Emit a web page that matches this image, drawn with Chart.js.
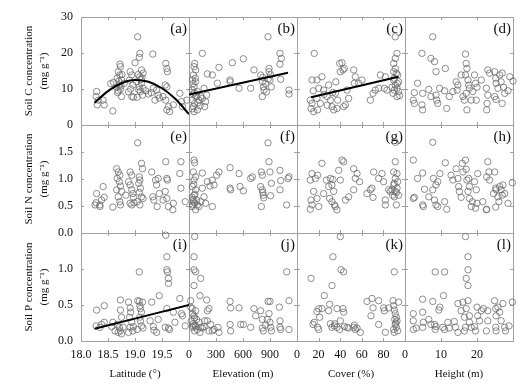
<!DOCTYPE html>
<html><head><meta charset="utf-8">
<script src="https://cdn.jsdelivr.net/npm/chart.js@4.4.0/dist/chart.umd.min.js"></script>
<style>html,body{margin:0;padding:0;background:#fff;}#wrap{width:528px;height:389px;position:relative;}</style>
</head><body><div id="wrap"><canvas id="c" width="528" height="389"></canvas></div>
<script>
// ---------- axis definitions ----------
const xTitles = ['Latitude (\u00B0)', 'Elevation (m)', 'Cover (%)', 'Height (m)'];
const xMins = [18, 0, 0, 0];
const xMaxs = [20, 1200, 100, 30];
const xSteps = [0.5, 300, 20, 10];
const yTitles = [['Soil C concentration', '(mg g\u207B\u00B9)'], ['Soil N concentration', '(mg g\u207B\u00B9)'], ['Soil P concentration', '(mg g\u207B\u00B9)']];
const yMins = [0, 0, 0];
const yMaxs = [30, 2, 1.5];
const ySteps = [10, 0.5, 0.5];
const panelLabels = ['(a)','(b)','(c)','(d)','(e)','(f)','(g)','(h)','(i)','(j)','(k)','(l)'];

// ---------- data: [x, y] ----------
const cLat = [[18.29,9.3],[18.28,7.9],[18.32,6.9],[18.30,5.6],[18.41,6.9],[18.43,5.6],[18.59,3.9],[18.60,11.8],
[18.72,16.9],[18.73,16.2],[18.69,14.8],[18.72,13.9],[18.67,13.0],[18.75,12.5],[18.71,11.1],[18.66,10.5],[18.73,9.9],[18.69,9.5],[18.75,7.9],[18.80,11.6],
[18.91,14.8],[18.94,13.9],[18.90,12.5],[18.96,11.1],[18.94,7.9],[18.97,7.7],
[19.05,24.5],[19.09,19.9],[19.08,18.8],[19.00,17.3],[19.12,15.3],[19.15,14.4],[19.09,13.4],[19.03,12.0],[19.12,11.6],[19.08,10.6],[19.15,10.2],[19.10,9.3],[19.14,8.3],[19.04,7.7],
[19.33,19.7],[19.34,10.2],[19.40,9.7],[19.43,8.3],[19.37,6.9],
[19.57,17.1],[19.59,15.7],[19.60,14.8],[19.56,11.1],[19.59,10.6],[19.52,7.9],[19.57,6.9],[19.62,5.1],[19.59,4.2],[19.64,3.7],
[19.71,5.6],[19.83,8.8],[19.86,6.5],[19.96,6.9],[19.88,5.1],
[18.70,12.2],[18.74,10.8],[18.68,9.0],[19.06,14.0],[19.11,12.6],[19.07,9.8],[19.13,13.1],[18.92,10.0],[18.88,9.2],[18.76,14.0],[19.45,7.5],[19.30,9.0],[18.55,11.5],[19.20,9.5],[19.25,8.6]];
const cElev = [[63,17.1],[56,16.2],[74,15.3],[48,13.9],[37,12.5],[74,12.0],[56,10.6],[37,9.7],[93,9.3],[48,8.6],[74,7.9],[37,6.9],[63,6.0],[48,5.1],[93,4.2],[56,3.7],[111,6.9],[130,7.9],[122,5.3],
[148,19.9],[167,10.2],[185,6.5],[174,5.1],[148,7.4],[196,8.3],[204,14.2],[259,13.9],[333,16.0],[315,11.6],
[456,12.0],[456,12.5],[481,17.3],[556,10.2],[604,18.4],
[685,10.2],[722,15.3],[796,13.9],[815,12.0],[826,10.6],[833,9.7],[815,7.9],[889,14.8],[907,13.9],[900,12.5],[915,10.6],[878,24.5],[1011,19.9],[1026,18.5],[1011,16.9],[1019,12.7],[1111,9.7],[1111,8.6],[889,15.7],
[45,11.5],[60,9.0],[85,8.0],[100,6.2],[40,4.5],[70,13.0],[850,11.5],[880,12.8],[860,9.2],[820,13.2]];
const cCover = [[16.0,19.9],[13.9,12.5],[18.5,12.5],[20.1,10.2],[12.3,6.9],[13.9,6.0],[13.0,4.6],[15.4,3.7],[18.5,7.4],[21.6,6.0],[19.1,4.2],
[23.1,13.4],[24.7,9.7],[27.8,7.9],[29.3,11.1],[30.9,6.9],[32.4,5.1],[34.0,4.2],[37.0,4.6],[35.5,8.8],[37.7,6.9],
[39.5,17.1],[41.7,17.3],[42.6,15.3],[43.8,15.7],[40.1,14.8],[44.8,5.6],[43.2,5.1],[46.3,9.7],[47.8,7.4],
[52.5,15.3],[54.0,13.4],[53.1,11.6],[57.1,11.6],[60.2,12.5],
[67.9,6.9],[70.4,8.8],[72.5,9.7],[75.6,10.2],[77.2,13.9],[81.8,13.4],
[91.0,24.5],[92.6,19.9],[91.0,18.5],[89.5,17.1],[91.0,15.7],[89.5,14.8],[92.0,14.4],[93.2,13.9],[89.5,12.5],[94.1,12.0],[91.0,11.1],[92.6,10.2],[90.1,9.7],[94.1,9.3],[88.9,8.8],[92.6,7.9],[80.9,10.2],[83.3,9.7],
[25,8.5],[15,9.5],[33,9.0],[28,5.5],[36,12.0],[90,13.0],[93,11.5],[88,10.5],[95,8.2]];
const cHeight = [[7.7,24.5],[4.7,19.9],[7.2,18.5],[8.2,17.6],[8.6,14.8],[11.2,15.7],
[3.5,11.6],[2.6,9.0],[2.3,6.9],[2.6,6.0],[4.9,8.8],[4.7,5.6],[4.9,4.2],[6.6,9.9],[7.2,7.9],[8.6,8.3],[8.8,6.9],[9.1,6.0],[9.6,10.2],[11.0,9.5],[11.6,4.6],[12.3,7.9],[13.3,9.3],
[14.2,12.0],[14.7,11.1],[14.5,9.7],[15.6,13.9],[16.1,7.9],[16.5,6.9],[16.8,19.7],[17.0,17.1],[17.2,15.7],[16.8,13.9],[17.5,12.5],[17.7,11.1],[17.9,10.2],[17.0,8.8],[17.2,4.2],[18.4,6.9],[18.8,9.3],[19.3,13.9],[19.6,11.6],[20.0,10.5],[19.8,6.9],
[21.2,12.5],[22.6,10.2],[23.0,15.3],[23.5,14.4],[23.0,8.3],[22.8,6.0],[22.7,4.2],
[24.9,14.8],[25.2,13.0],[25.3,11.6],[25.8,10.2],[26.3,13.9],[26.7,12.0],[27.0,14.4],[27.4,10.5],[27.7,8.8],[27.0,6.0],[24.9,7.9],[25.3,7.1],[28.6,9.5],[29.1,13.4],[30.0,12.2]];

const nLat = [[18.29,0.73],[18.28,0.56],[18.26,0.52],[18.35,0.52],[18.38,0.61],[18.41,0.86],[18.43,0.66],[18.35,0.49],[18.59,0.48],
[18.66,1.19],[18.69,1.13],[18.72,1.07],[18.67,1.01],[18.71,0.95],[18.73,0.87],[18.66,0.80],[18.75,0.77],[18.69,0.67],[18.72,0.58],[18.73,0.52],
[18.83,0.70],[18.88,0.95],[18.91,1.13],[18.94,1.07],[18.91,0.89],[18.94,0.80],[18.96,0.73],[18.97,0.66],[18.91,0.55],[18.98,0.56],[18.94,0.52],
[19.05,1.67],[19.08,1.04],[19.09,0.98],[19.12,1.29],[19.14,1.19],[19.07,0.92],[19.10,0.83],[19.08,0.75],[19.12,0.67],[19.15,0.64],[19.04,0.58],[19.09,0.52],
[19.31,1.13],[19.40,0.89],[19.43,1.01],[19.38,0.98],[19.33,0.67],[19.35,0.61],[19.41,0.49],[19.45,0.73],
[19.57,1.32],[19.59,1.01],[19.60,0.98],[19.56,0.77],[19.59,0.64],[19.52,0.61],[19.62,0.49],[19.71,0.55],[19.70,0.43],[19.85,1.32],[19.83,1.10],[19.85,0.83],[19.93,0.58]];
const nElev = [[56,1.35],[63,1.30],[48,1.13],[74,1.04],[56,0.98],[37,0.86],[74,0.80],[56,0.70],[37,0.66],[85,0.61],[48,0.58],[63,0.55],[37,0.49],[93,0.52],[74,0.43],[111,0.49],[130,0.58],[148,1.11],[167,0.67],[185,0.55],[259,0.49],[148,0.83],[204,0.95],[233,0.87],[259,0.98],[278,0.89],[307,1.07],[333,1.13],
[456,1.21],[463,0.80],[456,0.83],[556,1.10],[567,0.86],[604,0.78],
[685,1.01],[704,1.04],[804,1.13],[815,1.07],[796,0.86],[815,0.80],[826,0.70],[907,0.69],[915,0.92],[804,0.49],[900,1.13],[889,1.32],[878,1.67],[1011,1.16],[1011,0.80],[1019,0.97],[1111,1.04],[1100,1.01],[1085,0.52],
[45,0.62],[66,0.72],[52,0.90],[40,0.52],[820,0.75],[830,0.65]];
const nCover = [[23.1,1.29],[13.9,1.10],[12.3,0.98],[17.0,1.01],[19.1,1.07],[15.4,0.77],[13.0,0.61],[13.9,0.52],[12.3,0.44],[18.5,0.64],[20.1,0.49],
[24.7,0.73],[27.2,0.98],[29.3,0.86],[30.9,1.01],[32.4,0.89],[33.3,0.99],[34.0,0.77],[30.2,0.64],[32.4,0.58],[34.6,0.52],[37.0,0.43],[35.5,0.49],[40.1,0.98],[41.7,1.35],[43.2,1.32],[38.6,1.16],[44.8,0.61],[47.8,0.67],
[52.5,1.19],[54.0,1.01],[55.6,1.10],[52.5,0.80],[58.0,0.95],
[64.8,0.73],[67.9,0.80],[69.4,0.83],[70.4,0.66],[71.0,1.13],[75.6,1.01],[78.7,1.10],[80.2,0.95],[81.8,0.61],[81.8,0.52],
[91.0,1.68],[91.0,1.32],[89.5,1.13],[92.6,1.10],[91.0,1.01],[93.2,0.95],[89.5,0.89],[92.6,0.83],[88.0,0.80],[91.0,0.77],[94.1,0.70],[90.1,0.67],[86.4,0.77],[92.0,0.52],[84.9,0.80],
[90,0.92],[92,0.75],[88.5,0.70]];
const nHeight = [[7.7,1.68],[2.3,1.35],[3.5,1.01],[4.9,1.11],[5.4,0.81],[2.3,0.64],[2.6,0.66],[4.9,0.52],[5.1,0.49],[6.6,0.67],[7.7,0.80],[7.9,1.01],[8.6,0.89],[9.1,0.95],[9.7,1.10],[11.2,1.30],[8.2,0.61],[8.6,0.52],[9.1,0.49],[11.0,0.58],[11.6,0.44],
[12.8,1.07],[13.3,0.98],[14.2,1.19],[14.7,1.01],[14.9,0.86],[15.1,0.77],[15.6,0.66],[15.9,1.29],[16.1,1.13],[16.8,1.35],[17.0,1.18],[17.2,0.98],[17.7,1.01],[17.9,0.86],[17.5,0.77],[17.9,0.64],[18.4,0.49],[18.7,0.58],[19.3,0.95],[19.8,0.80],[20.0,0.55],[20.2,1.10],[19.6,0.46],[21.6,0.58],[22.7,0.44],[22.6,0.43],
[23.0,1.32],[23.3,1.13],[22.7,1.04],[23.5,0.98],[24.9,1.13],[25.2,0.83],[24.6,0.73],[25.3,0.80],[25.8,0.67],[26.3,0.86],[26.7,0.80],[27.2,0.89],[27.0,0.70],[27.7,0.73],[28.6,0.55],[29.8,0.93],[25.2,0.48],[26.1,0.58]];

const pLat = [[18.28,0.21],[18.29,0.43],[18.43,0.49],[18.35,0.19],[18.38,0.23],[18.43,0.26],[18.59,0.26],[18.57,0.20],
[18.73,0.57],[18.73,0.43],[18.75,0.33],[18.71,0.19],[18.73,0.14],[18.69,0.12],[18.75,0.10],[18.78,0.19],[18.67,0.23],[18.63,0.14],
[18.88,0.54],[18.91,0.46],[18.92,0.40],[18.90,0.33],[18.94,0.26],[18.91,0.19],[18.96,0.14],[18.88,0.12],[18.97,0.20],
[19.05,0.56],[19.08,0.55],[19.09,0.49],[19.10,0.45],[19.12,0.40],[19.08,0.96],[19.09,0.33],[19.10,0.28],[19.12,0.21],[19.04,0.16],[19.15,0.18],[19.14,0.54],
[19.31,0.54],[19.28,0.28],[19.34,0.20],[19.35,0.15],[19.40,0.12],[19.45,0.63],[19.43,0.30],
[19.57,1.47],[19.59,1.17],[19.59,0.99],[19.60,0.96],[19.62,0.87],[19.62,0.80],[19.59,0.45],[19.56,0.19],[19.62,0.18],[19.64,0.16],[19.71,0.40],[19.74,0.26],[19.83,0.59],[19.86,0.38],[19.88,0.35],[19.93,0.21]];
const pElev = [[63,1.45],[56,1.17],[56,0.99],[74,0.96],[130,0.87],[56,0.77],[122,0.63],[19,0.56],[37,0.45],[74,0.42],[56,0.35],[26,0.28],[48,0.21],[37,0.19],[74,0.20],[93,0.16],[63,0.14],[111,0.26],[130,0.19],[148,0.18],[167,0.20],[174,0.28],[85,0.30],[19,0.47],[122,0.12],
[196,0.57],[204,0.42],[222,0.45],[204,0.28],[241,0.23],[259,0.14],[278,0.16],[322,0.19],[333,0.12],[222,0.14],
[456,0.55],[463,0.46],[456,0.23],[463,0.14],[556,0.46],[574,0.23],[604,0.23],
[685,0.19],[722,0.45],[741,0.35],[796,0.42],[815,0.30],[815,0.18],[826,0.14],[878,0.55],[900,0.55],[889,0.38],[900,0.26],[907,0.19],[915,0.14],[1011,0.28],[1004,0.47],[1011,0.19],[1019,0.16],[1085,0.96],[1111,0.56],[1111,0.16],
[45,0.24],[60,0.32],[68,0.22],[40,0.38],[850,0.22],[870,0.30]];
const pCover = [[13.0,0.87],[18.5,0.41],[20.1,0.45],[14.8,0.23],[16.0,0.26],[19.1,0.19],[20.1,0.16],[21.0,0.33],[23.1,0.45],[25.3,0.63],[30.2,0.51],[32.4,0.77],[33.3,1.17],[40.1,1.45],[40.7,0.99],[43.2,0.96],[29.3,0.42],[30.9,0.24],[32.4,0.19],[34.6,0.21],[37.0,0.45],[37.0,0.19],[40.1,0.28],[42.6,0.45],[43.2,0.40],[39.5,0.16],[43.8,0.20],[46.3,0.19],[47.8,0.18],
[52.5,0.19],[54.0,0.16],[55.6,0.18],[58.6,0.12],[64.8,0.55],[69.4,0.59],[70.4,0.46],[68.5,0.35],[75.6,0.56],[75.6,0.23],[80.2,0.46],[80.9,0.42],[81.8,0.12],[84.9,0.46],
[88.9,0.56],[89.5,0.49],[90.1,0.43],[91.0,0.38],[90.1,0.96],[92.0,0.33],[92.6,0.28],[91.0,0.23],[92.0,0.19],[89.5,0.16],[94.1,0.54],[93.2,0.14],[90.1,0.12],
[91.5,0.25],[90.5,0.30],[53,0.22],[35,0.24]];
const pHeight = [[16.8,1.45],[17.5,1.17],[17.5,0.99],[8.4,0.96],[11.0,0.96],[17.0,0.87],[17.5,0.77],[10.7,0.63],[4.9,0.58],[7.7,0.55],[9.7,0.47],[9.4,0.43],[2.3,0.38],[4.9,0.40],[2.3,0.28],[3.1,0.18],[2.3,0.16],[4.9,0.19],[5.1,0.26],[6.6,0.30],[7.2,0.23],[8.2,0.23],[8.6,0.20],[8.4,0.16],[10.5,0.19],[11.0,0.16],[11.9,0.26],[12.3,0.18],[13.7,0.27],[14.0,0.19],[14.7,0.12],[14.7,0.52],[15.6,0.42],[16.1,0.54],[16.5,0.33],[17.0,0.45],[17.5,0.56],[17.9,0.35],[16.8,0.19],[16.5,0.14],[17.9,0.26],[18.4,0.19],[19.3,0.20],[19.6,0.14],[20.0,0.47],[20.2,0.35],[20.7,0.28],[21.2,0.42],[21.8,0.45],[22.6,0.14],[23.0,0.42],[23.0,0.28],[24.9,0.56],[25.2,0.45],[25.3,0.35],[25.2,0.19],[25.3,0.14],[25.8,0.47],[26.3,0.40],[26.7,0.28],[27.2,0.52],[27.7,0.19],[27.9,0.14],[28.9,0.21],[29.8,0.54]];

// fitted lines
const fitCLat = [[18.25,6.2],[18.5,9.4],[18.75,11.6],[19.0,12.5],[19.25,12.0],[19.5,10.2],[19.75,7.2],[20.0,3.0]];
const fitCElev = [[0,8.5],[1100,14.5]];
const fitCCover = [[13,7.7],[94,13.4]];
const fitPLat = [[18.25,0.17],[20.0,0.50]];

// ---------- build ----------
const xIds = ['x0','x1','x2','x3'];
const yIds = ['y0','y1','y2'];
const grid = [[cLat,cElev,cCover,cHeight],[nLat,nElev,nCover,nHeight],[pLat,pElev,pCover,pHeight]];
const fits = [{d:fitCLat,r:0,c:0},{d:fitCElev,r:0,c:1},{d:fitCCover,r:0,c:2},{d:fitPLat,r:2,c:0}];
const toPts = a => a.map(p => ({x:p[0], y:p[1]}));

const datasets = [];
grid.forEach((row, r) => row.forEach((d, c) => {
  datasets.push({type:'scatter', data:toPts(d), xAxisID:xIds[c], yAxisID:yIds[r],
    pointRadius:3.2, pointHoverRadius:3.2, borderWidth:0.9, borderColor:'rgba(105,105,105,0.85)', backgroundColor:'rgba(0,0,0,0)', clip:false, order:2});
}));
fits.forEach(f => datasets.push({type:'line', data:toPts(f.d), xAxisID:xIds[f.c], yAxisID:yIds[f.r],
  borderColor:'#000', borderWidth:2, pointRadius:0, tension:0.4, cubicInterpolationMode:'monotone', fill:false, order:1}));

const fmt = (v, step) => step < 1 ? v.toFixed(1) : String(v);
const scales = {};
xIds.forEach((id, i) => {
  scales[id] = {type:'linear', position:'bottom', stack:'xs', weight:i+1, min:xMins[i], max:xMaxs[i],
    grid:{display:false, drawTicks:false}, border:{display:false},
    ticks:{stepSize:xSteps[i], autoSkip:false, maxRotation:0, padding:7, color:'#111', font:{size:12},
      callback:(v) => v >= xMaxs[i] - 1e-9 ? '' : fmt(v, xSteps[i])},
    title:{display:true, text:xTitles[i], color:'#111', font:{size:11}, padding:{top:2, bottom:8}},
    afterFit(s){ s.height = 48; }};
});
yIds.forEach((id, i) => {
  scales[id] = {type:'linear', position:'left', stack:'ys', weight:3-i, min:yMins[i], max:yMaxs[i],
    grid:{display:false, drawTicks:false}, border:{display:false},
    ticks:{stepSize:ySteps[i], autoSkip:false, padding:8, color:'#111', font:{size:12},
      callback:(v) => (i > 0 && v >= yMaxs[i] - 1e-9) ? '' : fmt(v, ySteps[i])},
    title:{display:true, text:yTitles[i], color:'#111', font:{size:11, lineHeight:1.35}, padding:{top:22, bottom:0}},
    afterFit(s){ s.width = 81; }};
});

const framePlugin = {
  id:'frames',
  beforeDatasetsDraw(chart){
    const ctx = chart.ctx;
    const xs = xIds.map(id => chart.scales[id]);
    const ys = yIds.map(id => chart.scales[id]);
    ctx.save();
    ctx.strokeStyle = '#a0a0a0'; ctx.lineWidth = 1;
    ys.forEach(y => xs.forEach(x => {
      ctx.strokeRect(Math.round(x.left)+0.5, Math.round(y.top)+0.5, Math.round(x.right)-Math.round(x.left), Math.round(y.bottom)-Math.round(y.top));
    }));
    ctx.beginPath();
    xs.forEach(x => x.ticks.forEach(t => {
      const px = Math.round(x.getPixelForValue(t.value)) + 0.5;
      if (px <= x.left + 2 || px >= x.right - 2) return;
      ys.forEach(y => { ctx.moveTo(px, y.bottom); ctx.lineTo(px, y.bottom - 3); ctx.moveTo(px, y.top); ctx.lineTo(px, y.top + 3); });
    }));
    ys.forEach(y => y.ticks.forEach(t => {
      const py = Math.round(y.getPixelForValue(t.value)) + 0.5;
      if (py <= y.top + 2 || py >= y.bottom - 2) return;
      xs.forEach(x => { ctx.moveTo(x.left, py); ctx.lineTo(x.left + 3, py); ctx.moveTo(x.right, py); ctx.lineTo(x.right - 3, py); });
    }));
    ctx.stroke();
    ctx.restore();
  },
  afterDatasetsDraw(chart){
    const ctx = chart.ctx;
    ctx.save();
    ctx.fillStyle = '#111';
    ctx.font = '15px "Liberation Serif", serif';
    ctx.textAlign = 'right'; ctx.textBaseline = 'middle';
    yIds.forEach((yid, r) => xIds.forEach((xid, c) => {
      const x = chart.scales[xid], y = chart.scales[yid];
      ctx.fillText(panelLabels[r*4 + c], x.right - 2, y.top + 12);
    }));
    ctx.restore();
  }
};

Chart.defaults.font.family = '"Liberation Serif", "Times New Roman", serif';
Chart.defaults.color = '#111';
new Chart(document.getElementById('c'), {
  data:{datasets},
  options:{responsive:false, animation:false, events:[],
    layout:{padding:{left:0, right:15, top:17, bottom:0}},
    plugins:{legend:{display:false}, tooltip:{enabled:false}},
    scales},
  plugins:[framePlugin]
});
</script></body></html>
